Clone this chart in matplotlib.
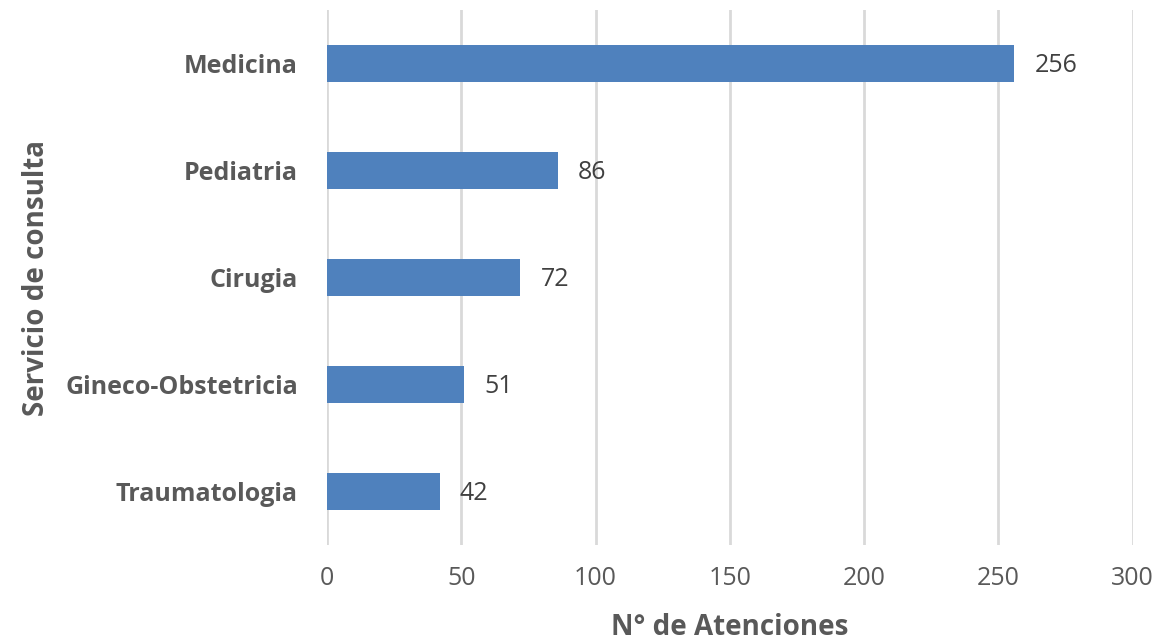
import matplotlib.pyplot as plt
import numpy as np

# datos
servicios = ["Medicina", "Pediatria", "Cirugia", "Gineco-Obstetricia", "Traumatologia"]
atenciones = [256, 86, 72, 51, 42]
ticks_x = [0, 50, 100, 150, 200, 250, 300]

plt.rcParams['font.family'] = ['Open Sans', 'DejaVu Sans']

fig = plt.figure(figsize=(11.64, 6.44), dpi=100)
ax = fig.add_axes([0.281, 0.154, 0.692, 0.830])

y = np.arange(len(servicios))
ax.barh(y, atenciones, height=0.35, color="#4F81BD", zorder=3)

for yi, v in zip(y, atenciones):
    ax.text(v + 7.5, yi + 0.02, str(v), va="center", ha="left", fontsize=18, color="#404040")

ax.set_yticks(y)
ax.set_yticklabels(servicios, fontsize=18, fontweight="bold", color="#595959")
ax.set_ylim(len(servicios) - 0.5, -0.5)
ax.set_xlim(0, 300)
ax.set_xticks(ticks_x)
ax.set_xticklabels([str(t) for t in ticks_x], fontsize=18, color="#595959")
ax.tick_params(length=0)
ax.tick_params(axis="y", pad=21)
ax.tick_params(axis="x", pad=15)
ax.grid(axis="x", color="#D9D9D9", linewidth=2, zorder=0)
for s in ax.spines.values():
    s.set_visible(False)

ax.set_xlabel("N° de Atenciones", fontsize=20, fontweight="bold", color="#595959", labelpad=16)
ax.set_ylabel("Servicio de consulta", fontsize=20, fontweight="bold", color="#595959", labelpad=10)

fig.savefig("out.png", dpi=100)
